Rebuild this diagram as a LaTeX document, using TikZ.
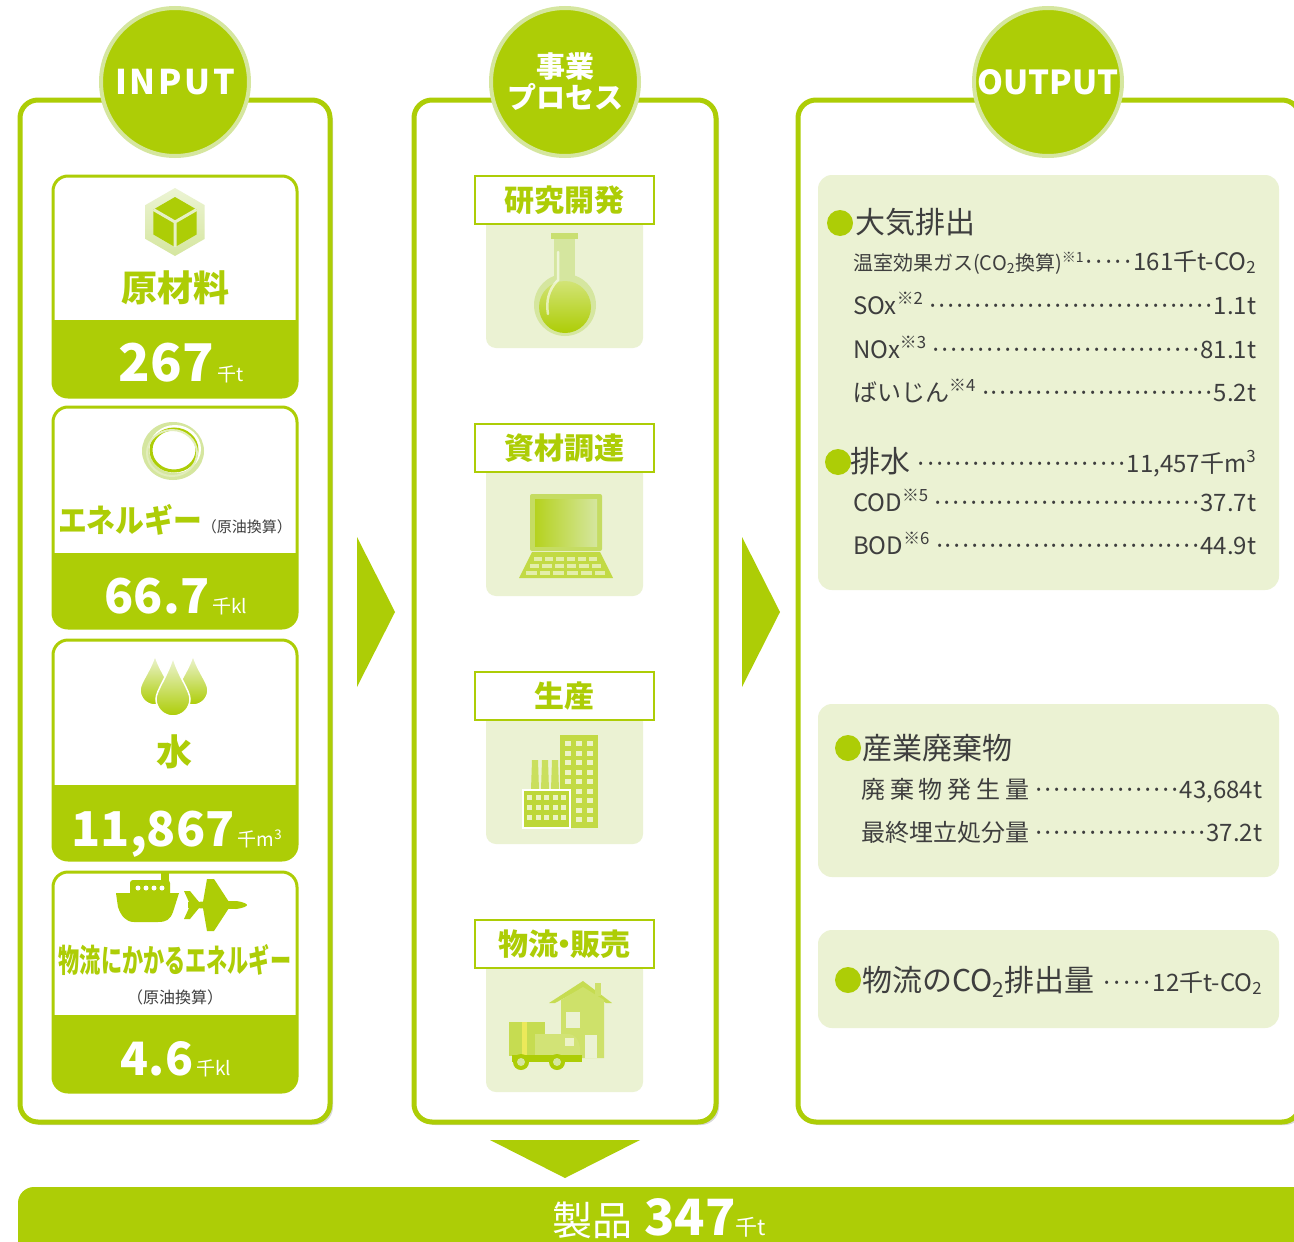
\documentclass[tikz,border=0pt]{standalone}
\usepackage{fontspec}
\usepackage{graphicx}
\usepackage{tikz}
\usetikzlibrary{shadows}
\setmainfont{Noto Sans CJK JP}

\newcommand{\fsz}[1]{\fontsize{#1}{#1}\selectfont}
\newcommand{\dotlead}{\xleaders\hbox to 8.8pt{\hss·\hss}\hfill}
\newcommand{\kome}[1]{\textsuperscript{※#1}}
\newcommand{\subtwo}{\textsubscript{2}}

\begin{document}
\begin{tikzpicture}[x=1pt,y=-1pt]
\definecolor{leaf}{HTML}{ADCD06}
\definecolor{leafPale}{HTML}{D5E69F}
\definecolor{panelBg}{HTML}{EBF2D3}
\definecolor{ink}{HTML}{3E3E3E}
\tikzset{
  column/.style={draw=leaf,line width=5pt,fill=white,rounded corners=18pt,
    drop shadow={shadow xshift=3pt,shadow yshift=-3pt,opacity=.3}},
  badge/.style={circle,fill=leaf,draw=leafPale,line width=4pt,minimum size=148pt,
    inner sep=0pt,text=white,font=\bfseries\fsz{34}},
  cardtitle/.style={inner sep=0pt,text=leaf,font=\bfseries\fsz{36}},
  cardvalue/.style={inner sep=0pt,text=white,anchor=base},
  steptag/.style={draw=leaf,line width=2pt,fill=white,minimum width=179pt,
    minimum height=48pt,inner sep=0pt,text=leaf,font=\bfseries\fsz{30}},
  rowtext/.style={inner sep=0pt,anchor=base west,text=ink,font=\fsz{24}},
  shelf/.style={fill=panelBg,rounded corners=14pt}
}
\clip (0,0) rectangle (1294,1242);

% three columns
\draw[column] (20,100) rectangle (330,1122);
\draw[column] (414,100) rectangle (716,1122);
\draw[column] (798,100) rectangle (1300,1122);

\node[badge] (inBadge) at (175,82) {\addfontfeature{LetterSpace=8}INPUT};
\node[badge,font=\bfseries\fontsize{29}{31}\selectfont,align=center] (procBadge) at (565,82) {事業\\プロセス};
\node[badge,font=\bfseries\fsz{33}] (outBadge) at (1048,82) {OUTPUT};

% input cards: top / band / bottom
\foreach \ya/\yb/\yc in {176/320/397,407/553/628,640/785/860,872/1015/1092}{
  \fill[white,rounded corners=15pt] (53,\ya) rectangle (297,\yc);
  \begin{scope}
    \clip[rounded corners=15pt] (53,\ya) rectangle (297,\yc);
    \fill[leaf] (53,\yb) rectangle (297,\yc);
  \end{scope}
  \draw[leaf,line width=3pt,rounded corners=15pt] (53,\ya) rectangle (297,\yc);
}

% cube
\begin{scope}[shift={(175,222)}]
  \shade[top color=leafPale!45,bottom color=leafPale] (0,-34)--(29.5,-17)--(29.5,17)--(0,34)--(-29.5,17)--(-29.5,-17)--cycle;
  \fill[leaf] (0,-25)--(21.6,-12.5)--(21.6,12.5)--(0,25)--(-21.6,12.5)--(-21.6,-12.5)--cycle;
  \draw[leafPale!60,line width=3pt,line join=round] (-21.6,-12.5)--(0,0)--(21.6,-12.5) (0,0)--(0,25);
\end{scope}
\node[cardtitle] (rawTitle) at (175,288) {原材料};
\node[cardvalue] (rawVal) at (181,381) {\bfseries\fsz{52}267\mdseries\fsz{19}\,千t};

% energy ring
\begin{scope}[shift={(173,451)}]
  \fill[leafPale] (0,0) ellipse (31pt and 29pt);
  \fill[white] (2,-2) ellipse (26pt and 24pt);
  \draw[leaf,line width=3pt] (1,-1) ellipse (23pt and 21pt);
  \draw[leafPale!70,line width=2pt] (-1,2) ellipse (25pt and 23pt);
\end{scope}
\node[inner sep=0pt] (enTitle) at (175,520) {\scalebox{0.9}[1]{\textcolor{leaf}{\bfseries\fsz{32}エネルギー}}\textcolor{ink}{\fsz{15}（原油換算）}};
\node[cardvalue] (enVal) at (176,613) {\bfseries\fsz{48}66.7\mdseries\fsz{19}\,千kl};

% water drops
\foreach \cx/\cy/\r/\h in {155/690/15/35,193/690/15/35,173/699/17/42}{
  \shadedraw[top color=leafPale!40,bottom color=leaf,draw=white,line width=1.5pt]
    (\cx,\cy-\h) .. controls (\cx+0.3*\r,\cy-0.55*\h) and (\cx+\r,\cy-0.5*\r) .. (\cx+\r,\cy)
    arc[start angle=0,end angle=180,radius=\r]
    .. controls (\cx-\r,\cy-0.5*\r) and (\cx-0.3*\r,\cy-0.55*\h) .. cycle;
}
\node[cardtitle] (waterTitle) at (174,752) {水};
\node[cardvalue] (waterVal) at (177,846) {\bfseries\fsz{48}11,867\mdseries\fsz{19}\,千m\textsuperscript{3}};

% ship and plane
\fill[leaf] (116,893) -- (179,893) -- (173,912) .. controls (170,920) and (166,922) .. (158,922)
  -- (134,922) .. controls (126,922) and (121,916) .. (118,907) -- cycle;
\fill[leaf,rounded corners=3pt] (130,880) rectangle (170,896);
\fill[leaf] (161,872) rectangle (169,882);
\foreach \d in {138,146,154,162} \fill[white] (\d,888) circle (2.5);
\fill[leaf] (188,902) -- (236,901) .. controls (244,902) and (247,904) .. (247,905)
  .. controls (247,906) and (244,908) .. (236,909) -- (188,908) -- cycle;
\fill[leaf] (203,902) -- (207,879) -- (214,879) -- (229,902) -- cycle;
\fill[leaf] (203,908) -- (207,931) -- (214,931) -- (229,908) -- cycle;
\fill[leaf] (189,902) -- (184,891) -- (190,891) -- (199,902) -- cycle;
\fill[leaf] (189,908) -- (184,919) -- (190,919) -- (199,908) -- cycle;
\node[inner sep=0pt] (logiTitle) at (175,960) {\scalebox{0.66}[1]{\textcolor{leaf}{\bfseries\fsz{32}物流にかかるエネルギー}}};
\node[inner sep=0pt,text=ink,font=\fsz{16}] (logiNote) at (175,997) {（原油換算）};
\node[cardvalue] (logiVal) at (176,1075) {\bfseries\fsz{46}4.6\mdseries\fsz{19}\,千kl};

% process steps
\foreach \ya/\lab [count=\i] in {176/研究開発,424/資材調達,672/生産,920/物流\kern-9pt・\kern-9pt販売}{
  \fill[panelBg,rounded corners=10pt] (486,\ya+40) rectangle (643,\ya+172);
  \node[steptag] (step\i) at (564.5,\ya+24) {\lab};
}

% flask
\fill[leafPale] (554,236) rectangle (575,282);
\fill[leafPale!70!leaf] (551,233) rectangle (578,239);
\fill[leafPale] (565,305) circle (31);
\shade[top color=leaf!55,bottom color=leaf] (565,307) circle (26);
\draw[white,opacity=.6,line width=2.5pt,line cap=round] (558,252) -- (558,280) .. controls (548,290) and (546,302) .. (548,314);

% laptop
\fill[leafPale!60!leaf,rounded corners=2pt] (530,494) rectangle (602,551);
\shade[left color=leaf!90,right color=leafPale] (535,499) rectangle (597,546);
\fill[leaf!75] (532,552) -- (600,552) -- (613,578) -- (519,578) -- cycle;
\foreach \ky/\kx/\kw in {557/533/11,564/529/12.3,571/525/13.7}
  \foreach \c in {0,...,5}
    \fill[white,opacity=.55] (\kx+\c*\kw+1,\ky) rectangle ++(\kw-3,4);

% factory
\fill[leaf!75] (560,735) rectangle (598,828);
\foreach \r in {0,...,8}
  \foreach \c in {0,1,2}
    \fill[white,opacity=.7] (565+\c*11,741+\r*9.5) rectangle ++(6,5);
\foreach \cx in {532,542,552}
  \fill[leaf!65] (\cx,760) -- (\cx+6,760) -- (\cx+7,790) -- (\cx-1,790) -- cycle;
\filldraw[fill=leaf!80,draw=white,line width=1.5pt] (523,790) rectangle (570,828);
\foreach \r in {0,1,2}
  \foreach \c in {0,...,4}
    \fill[white,opacity=.7] (527+\c*8.5,795+\r*10) rectangle ++(5,5);

% house and truck
\fill[leaf!70] (549,1003) -- (583,981) -- (612,1003) -- (606,1003) -- (583,988) -- (555,1003) -- cycle;
\fill[leaf!60] (561,1000) -- (583,987) -- (604,1000) -- (604,1058) -- (561,1058) -- cycle;
\fill[leaf!60] (595,983) rectangle (601,996);
\fill[panelBg] (566,1012) rectangle (580,1028);
\fill[panelBg] (585,1035) rectangle (597,1058);
\fill[leaf!70] (509,1022) rectangle (545,1056);
\fill[yellow!50!leafPale] (522,1022) rectangle (527,1056);
\fill[leaf!55] (535,1034) -- (568,1034) .. controls (576,1034) and (580,1042) .. (580,1050) -- (580,1058) -- (535,1058) -- cycle;
\fill[white,opacity=.6] (565,1038) rectangle (574,1046);
\fill[leaf] (512,1055) rectangle (582,1062);
\foreach \wx in {521,557}{
  \fill[leaf] (\wx,1062) circle (8);
  \fill[leafPale] (\wx,1062) circle (4);
}

% flow arrows
\fill[leaf] (357,537) -- (395,612) -- (357,687) -- cycle;
\fill[leaf] (742,537) -- (780,612) -- (742,687) -- cycle;
\fill[leaf] (490,1140) -- (640,1140) -- (565,1178) -- cycle;

% output shelves
\fill[shelf] (818,175) rectangle (1279,590);
\fill[shelf] (818,704) rectangle (1279,877);
\fill[shelf] (818,930) rectangle (1279,1028);

\fill[leaf] (840,223) circle (13);
\node[rowtext,font=\fsz{30}] (airHead) at (855,233) {大気排出};
\node[rowtext] (air1) at (853,270) {\hbox to 403pt{{\fsz{20}温室効果ガス(CO\subtwo 換算)\kome{1}}\dotlead 161千t-CO\subtwo}};
\node[rowtext] (air2) at (853,314) {\hbox to 403pt{SOx\kome{2}\ \dotlead 1.1t}};
\node[rowtext] (air3) at (853,358) {\hbox to 403pt{NOx\kome{3}\ \dotlead 81.1t}};
\node[rowtext] (air4) at (853,401) {\hbox to 403pt{ばいじん\kome{4}\ \dotlead 5.2t}};

\fill[leaf] (838,462) circle (13);
\node[rowtext] (water0) at (850,472) {\hbox to 406pt{\fsz{30}排水\ \fsz{24}\dotlead 11,457千m\textsuperscript{3}}};
\node[rowtext] (water1) at (853,511) {\hbox to 403pt{COD\kome{5}\ \dotlead 37.7t}};
\node[rowtext] (water2) at (853,554) {\hbox to 403pt{BOD\kome{6}\ \dotlead 44.9t}};

\fill[leaf] (848,748) circle (13);
\node[rowtext,font=\fsz{30}] (wasteHead) at (862,759) {産業廃棄物};
\node[rowtext] (waste1) at (861,798) {\hbox to 401pt{\makebox[168pt][s]{廃\hfil 棄\hfil 物\hfil 発\hfil 生\hfil 量}\ \dotlead 43,684t}};
\node[rowtext] (waste2) at (861,841) {\hbox to 401pt{最終埋立処分量\ \dotlead 37.2t}};

\fill[leaf] (848,980) circle (13);
\node[rowtext] (logiCO) at (862,991) {\hbox to 400pt{\fsz{30}物流のCO\subtwo 排出量\ \fsz{24}\dotlead 12千t-CO\subtwo}};

% product bar
\fill[leaf,rounded corners=16pt] (18,1187) rectangle (1320,1290);
\node[inner sep=0pt,anchor=base,text=white] (product) at (659,1235) {\fsz{40}製品\hspace{12pt}\bfseries\fsz{50}347\mdseries\fsz{22}千t};
\end{tikzpicture}
\end{document}
